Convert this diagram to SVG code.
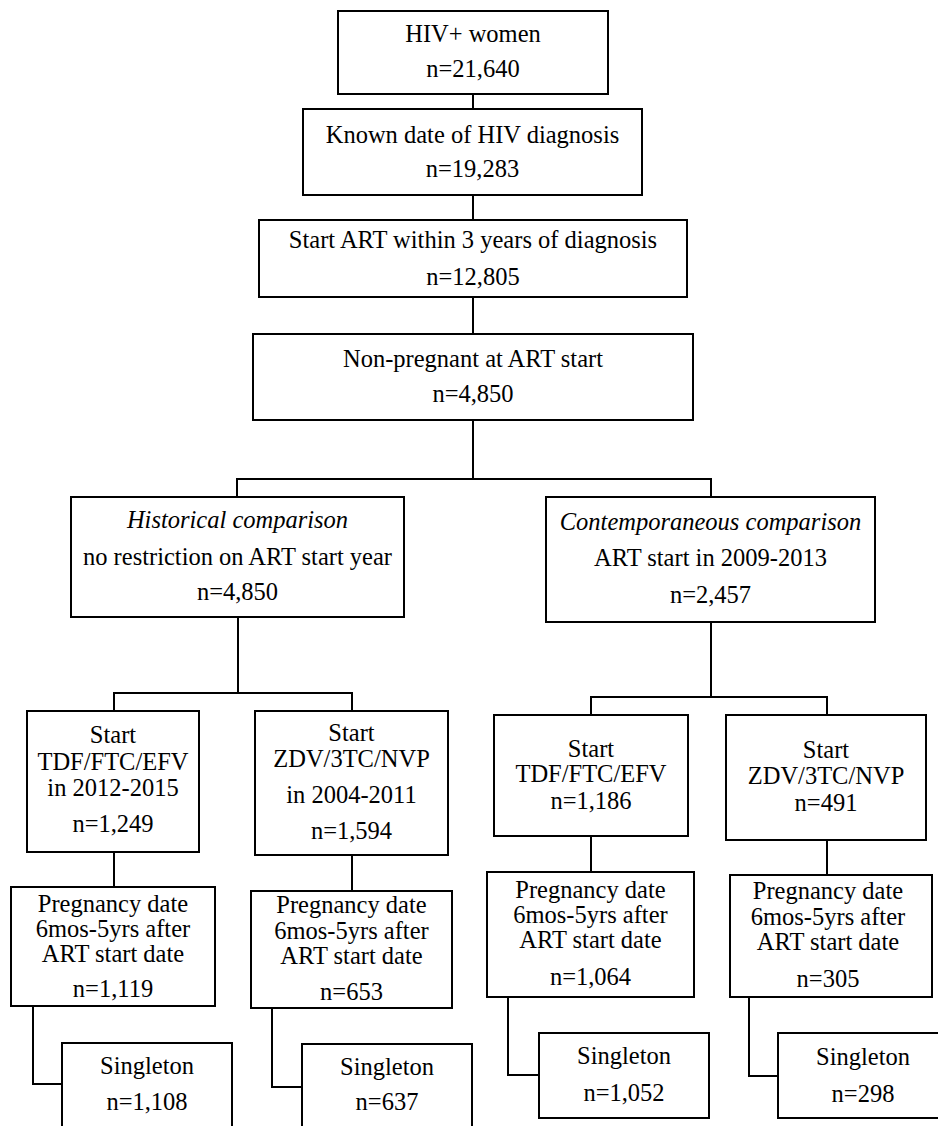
<svg xmlns="http://www.w3.org/2000/svg" width="938" height="1126" viewBox="0 0 938 1126">
<style>
.box{fill:#fff;stroke:#000;stroke-width:2}
.t{font-size:24.5px;fill:#000;text-anchor:middle}
.i{font-style:italic}
.c{fill:none;stroke:#000;stroke-width:2}
</style>
<rect width="938" height="1126" fill="#fff"/>
<g id="connectors">
<line class="c" x1="473" y1="94" x2="473" y2="109"/>
<line class="c" x1="473" y1="195" x2="473" y2="220"/>
<line class="c" x1="473" y1="297" x2="473" y2="334"/>
<polyline class="c" points="473,420 473,479"/>
<polyline class="c" points="237,497 237,479 711,479 711,497"/>
<polyline class="c" points="238,617 238,693"/>
<polyline class="c" points="114,711 114,693 352,693 352,711"/>
<polyline class="c" points="711,622 711,697"/>
<polyline class="c" points="591,715 591,697 827,697 827,715"/>
<line class="c" x1="114" y1="852" x2="114" y2="887"/>
<line class="c" x1="352" y1="855" x2="352" y2="891"/>
<line class="c" x1="591" y1="836" x2="591" y2="872"/>
<line class="c" x1="827" y1="840" x2="827" y2="875"/>
<polyline class="c" points="33,1006 33,1084 62,1084"/>
<polyline class="c" points="272,1008 272,1087 302,1087"/>
<polyline class="c" points="508,997 508,1075 539,1075"/>
<polyline class="c" points="749,997 749,1076 778,1076"/>
</g>
<g font-family="Liberation Serif, Tinos, DejaVu Serif, serif">
<g id="n1"><rect class="box" x="338" y="11" width="270" height="83"/>
<text class="t" x="473" y="42">HIV+ women</text><text class="t" x="473" y="77">n=21,640</text></g>
<g id="n2"><rect class="box" x="303" y="109" width="339" height="86"/>
<text class="t" x="472.5" y="143">Known date of HIV diagnosis</text><text class="t" x="472.5" y="177">n=19,283</text></g>
<g id="n3"><rect class="box" x="259" y="220" width="428" height="77"/>
<text class="t" x="473" y="248">Start ART within 3 years of diagnosis</text><text class="t" x="473" y="285">n=12,805</text></g>
<g id="n4"><rect class="box" x="253" y="334" width="440" height="86"/>
<text class="t" x="473" y="367">Non-pregnant at ART start</text><text class="t" x="473" y="402">n=4,850</text></g>
<g id="n5"><rect class="box" x="71" y="497" width="333" height="120"/>
<text class="t i" x="237.5" y="528">Historical comparison</text><text class="t" x="237.5" y="565">no restriction on ART start year</text><text class="t" x="237.5" y="600">n=4,850</text></g>
<g id="n6"><rect class="box" x="546" y="497" width="329" height="125"/>
<text class="t i" x="710.5" y="530">Contemporaneous comparison</text><text class="t" x="710.5" y="566">ART start in 2009-2013</text><text class="t" x="710.5" y="603">n=2,457</text></g>
<g id="n7"><rect class="box" x="27" y="711" width="172" height="141"/>
<text class="t" x="113" y="743">Start</text><text class="t" x="113" y="770">TDF/FTC/EFV</text><text class="t" x="113" y="796">in 2012-2015</text><text class="t" x="113" y="832">n=1,249</text></g>
<g id="n8"><rect class="box" x="255" y="711" width="193" height="144"/>
<text class="t" x="351.5" y="741">Start</text><text class="t" x="351.5" y="767">ZDV/3TC/NVP</text><text class="t" x="351.5" y="803">in 2004-2011</text><text class="t" x="351.5" y="839">n=1,594</text></g>
<g id="n9"><rect class="box" x="494" y="715" width="194" height="121"/>
<text class="t" x="591" y="757">Start</text><text class="t" x="591" y="782">TDF/FTC/EFV</text><text class="t" x="591" y="809">n=1,186</text></g>
<g id="n10"><rect class="box" x="726" y="715" width="200" height="125"/>
<text class="t" x="826" y="758">Start</text><text class="t" x="826" y="784">ZDV/3TC/NVP</text><text class="t" x="826" y="811">n=491</text></g>
<g id="n11"><rect class="box" x="11" y="887" width="204" height="119"/>
<text class="t" x="113" y="912">Pregnancy date</text><text class="t" x="113" y="937">6mos-5yrs after</text><text class="t" x="113" y="962">ART start date</text><text class="t" x="113" y="997">n=1,119</text></g>
<g id="n12"><rect class="box" x="251" y="891" width="201" height="117"/>
<text class="t" x="351.5" y="913">Pregnancy date</text><text class="t" x="351.5" y="939">6mos-5yrs after</text><text class="t" x="351.5" y="964">ART start date</text><text class="t" x="351.5" y="1000">n=653</text></g>
<g id="n13"><rect class="box" x="487" y="872" width="207" height="125"/>
<text class="t" x="590.5" y="898">Pregnancy date</text><text class="t" x="590.5" y="923">6mos-5yrs after</text><text class="t" x="590.5" y="948">ART start date</text><text class="t" x="590.5" y="985">n=1,064</text></g>
<g id="n14"><rect class="box" x="730" y="875" width="202" height="122"/>
<text class="t" x="828" y="899">Pregnancy date</text><text class="t" x="828" y="925">6mos-5yrs after</text><text class="t" x="828" y="950">ART start date</text><text class="t" x="828" y="987">n=305</text></g>
<g id="n15"><rect class="box" x="62" y="1043" width="170" height="90"/>
<text class="t" x="147" y="1074">Singleton</text><text class="t" x="147" y="1110">n=1,108</text></g>
<g id="n16"><rect class="box" x="302" y="1044" width="170" height="90"/>
<text class="t" x="387" y="1075">Singleton</text><text class="t" x="387" y="1110">n=637</text></g>
<g id="n17"><rect class="box" x="539" y="1033" width="170" height="85"/>
<text class="t" x="624" y="1064">Singleton</text><text class="t" x="624" y="1101">n=1,052</text></g>
<g id="n18"><rect class="box" x="778" y="1033" width="170" height="85"/>
<text class="t" x="863" y="1065">Singleton</text><text class="t" x="863" y="1102">n=298</text></g>
</g>
</svg>
